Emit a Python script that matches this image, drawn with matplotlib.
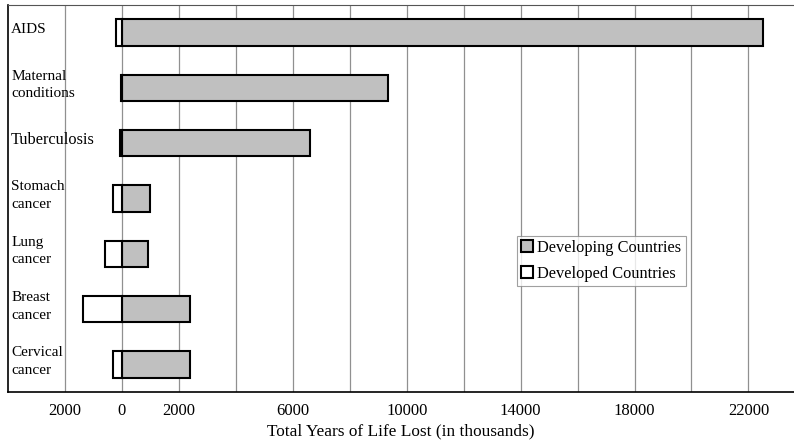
import numpy as np
import matplotlib
matplotlib.use('Agg')
import matplotlib.pyplot as plt
from matplotlib.transforms import blended_transform_factory

plt.rcParams['font.family'] = ['Liberation Serif', 'DejaVu Serif']

# Data (thousands of years of life lost)
causes = ['AIDS', 'Maternal\nconditions', 'Tuberculosis', 'Stomach\ncancer',
          'Lung\ncancer', 'Breast\ncancer', 'Cervical\ncancer']
developing = [22500, 9360, 6600, 990, 920, 2400, 2400]
developed = [220, 30, 60, 320, 600, 1380, 330]
tick_vals = [-2000, 0, 2000, 6000, 10000, 14000, 18000, 22000]
tick_text = ['2000', '0', '2000', '6000', '10000', '14000', '18000', '22000']
grid_vals = list(range(-2000, 22001, 2000))

fig = plt.figure(figsize=(7.94, 4.45), dpi=100)
ax = fig.add_axes([8 / 794, 53 / 445, 786 / 794, 387 / 445])

y = np.arange(len(causes))
ax.barh(y, developing, height=0.48, color='#c0c0c0', edgecolor='black',
        linewidth=1.5, label='Developing Countries', zorder=3)
ax.barh(y, [-v for v in developed], height=0.48, color='white', edgecolor='black',
        linewidth=1.5, label='Developed Countries', zorder=3)

ax.set_xlim(-4000, 23600)
ax.set_ylim(6.5, -0.5)
ax.set_yticks([])
ax.set_xticks(tick_vals)
ax.set_xticklabels(tick_text, fontsize=12)
ax.tick_params(axis='x', length=0, pad=8)
for g in grid_vals:
    ax.axvline(g, color='#909090', linewidth=0.9, zorder=1)

ax.spines['right'].set_visible(False)
ax.spines['top'].set_color('#555555')
ax.spines['left'].set_linewidth(1.2)
ax.spines['bottom'].set_linewidth(1.2)

trans = blended_transform_factory(ax.transAxes, ax.transData)
for i, name in enumerate(causes):
    fs = 11.8 if name == 'Tuberculosis' else 11
    ax.text(0.004, i - 0.05, name, transform=trans, fontsize=fs,
            va='center', ha='left', linespacing=1.45, zorder=4)

ax.set_xlabel('Total Years of Life Lost (in thousands)', fontsize=12.4, labelpad=3)

leg = ax.legend(loc='upper left', bbox_to_anchor=(509 / 786, 1 - 231 / 387),
                fontsize=11.8, frameon=True, fancybox=False, edgecolor='#888888',
                handlelength=0.75, handleheight=0.75, handletextpad=0.25,
                borderpad=0.25, labelspacing=0.6, borderaxespad=0)
leg.get_frame().set_linewidth(0.8)

fig.savefig('out.png', dpi=100)
